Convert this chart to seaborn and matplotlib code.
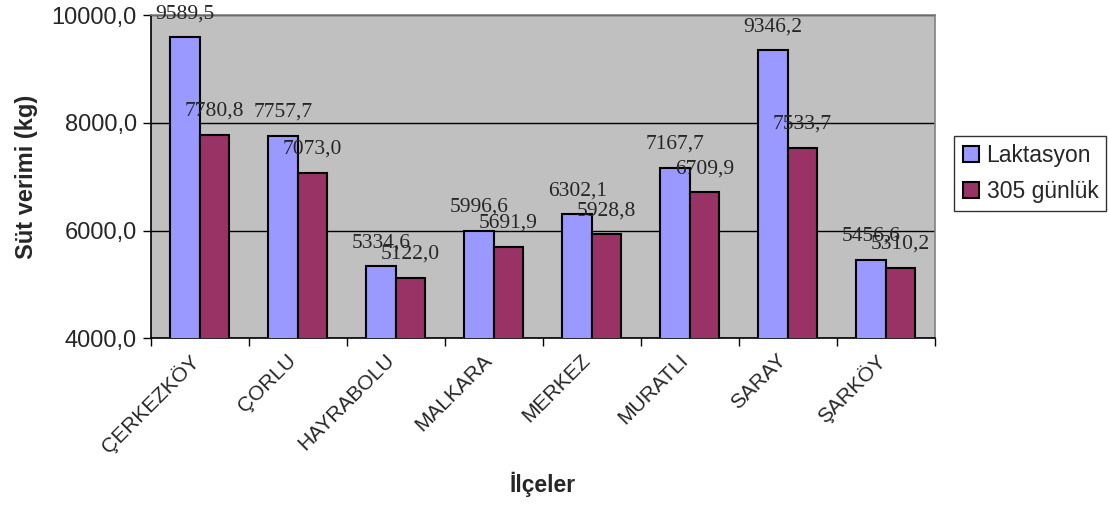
import pandas as pd
import seaborn as sns
import matplotlib.pyplot as plt
from matplotlib.transforms import ScaledTranslation

# Data
ilceler = ['ÇERKEZKÖY', 'ÇORLU', 'HAYRABOLU', 'MALKARA', 'MERKEZ', 'MURATLI', 'SARAY', 'ŞARKÖY']
laktasyon = [9589.5, 7757.7, 5334.6, 5996.6, 6302.1, 7167.7, 9346.2, 5456.6]
gunluk_305 = [7780.8, 7073.0, 5122.0, 5691.9, 5928.8, 6709.9, 7533.7, 5310.2]
series_names = ['Laktasyon', '305 günlük']
y_ticks = [4000, 6000, 8000, 10000]

df = pd.DataFrame({
    'ilce': ilceler * 2,
    'seri': [series_names[0]] * len(ilceler) + [series_names[1]] * len(ilceler),
    'verim': laktasyon + gunluk_305,
})

sns.set_theme(style='white')
plt.rcParams['font.family'] = ['Liberation Sans', 'DejaVu Sans']

fig = plt.figure(figsize=(11.09, 5.07), dpi=100)
ax = fig.add_axes([0.136, 0.333, 0.707, 0.637])
ax.set_facecolor('#C0C0C0')

palette = {'Laktasyon': '#9999FF', '305 günlük': '#993366'}
sns.barplot(data=df, x='ilce', y='verim', hue='seri', palette=palette,
            width=0.6, gap=0, edgecolor='black', linewidth=1.5,
            saturation=1, ax=ax, zorder=3)

# value labels (serif, like the original Excel chart)
for cont in ax.containers:
    for bar in cont:
        h = bar.get_height()
        ax.annotate(f'{h:.1f}'.replace('.', ','),
                    (bar.get_x() + bar.get_width() / 2, h),
                    xytext=(0, 17), textcoords='offset points',
                    ha='center', va='center', fontsize=15.5,
                    family=['Liberation Serif', 'DejaVu Serif'], zorder=5)

ax.set_ylim(4000, 10000)
ax.set_xlim(-0.5, len(ilceler) - 0.5)
ax.set_yticks(y_ticks)
ax.set_yticklabels([f'{v:.1f}'.replace('.', ',') for v in y_ticks], fontsize=17)
ax.yaxis.grid(True, color='black', linewidth=1, zorder=1)
ax.set_axisbelow(True)
ax.tick_params(axis='y', direction='out', length=6, width=1, color='black', left=True, pad=4)

# category ticks on boundaries, labels at centres
ax.set_xticks([i - 0.5 for i in range(len(ilceler) + 1)])
ax.set_xticklabels([])
ax.tick_params(axis='x', which='major', direction='out', length=6, width=1, color='black', bottom=True)
ax.set_xticks(range(len(ilceler)), minor=True)
ax.set_xticklabels(ilceler, minor=True, rotation=45, ha='right', va='top',
                   rotation_mode='anchor', fontsize=15)
ax.tick_params(axis='x', which='minor', length=0, pad=9)
shift = ScaledTranslation(-8 / 72, 0, fig.dpi_scale_trans)
for lbl in ax.get_xticklabels(minor=True):
    lbl.set_transform(lbl.get_transform() + shift)

for side in ['left', 'bottom']:
    ax.spines[side].set_color('black')
    ax.spines[side].set_linewidth(1.2)
for side in ['top', 'right']:
    ax.spines[side].set_color('#808080')
    ax.spines[side].set_linewidth(1.2)

ax.set_ylabel('Süt verimi (kg)', fontsize=17, fontweight='bold', labelpad=10)
ax.set_xlabel('İlçeler', fontsize=16.5, fontweight='bold', labelpad=11)

leg = ax.legend(loc='center left', bbox_to_anchor=(1.025, 0.51), fontsize=16.5,
                frameon=True, fancybox=False, edgecolor='black',
                handlelength=0.7, handleheight=0.7, handletextpad=0.35,
                borderpad=0.35, labelspacing=0.6, borderaxespad=0)
leg.get_frame().set_linewidth(1)

fig.savefig('out.png', dpi=100, facecolor='white')
